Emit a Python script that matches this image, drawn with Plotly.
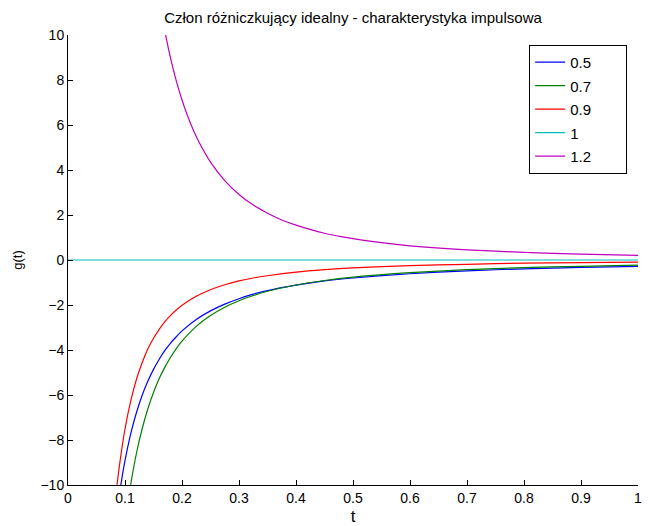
import plotly.graph_objects as go

# Values
t_05 = [0.085, 0.09, 0.095, 0.10, 0.11, 0.12, 0.13, 0.14, 0.15, 0.16, 0.17, 0.18, 0.19, 0.20, 0.225, 0.25, 0.275, 0.30, 0.325, 0.35, 0.40, 0.45, 0.50, 0.60, 0.70, 0.80, 0.90, 1.00]
g_05 = [-11.38, -10.45, -9.63, -8.92, -7.73, -6.79, -6.02, -5.39, -4.86, -4.41, -4.02, -3.69, -3.41, -3.15, -2.64, -2.26, -1.96, -1.72, -1.52, -1.36, -1.12, -0.93, -0.80, -0.61, -0.48, -0.39, -0.33, -0.28]

t_07 = [0.10, 0.105, 0.11, 0.12, 0.13, 0.14, 0.15, 0.16, 0.17, 0.18, 0.19, 0.20, 0.225, 0.25, 0.275, 0.30, 0.325, 0.35, 0.40, 0.45, 0.50, 0.60, 0.70, 0.80, 0.90, 1.00]
g_07 = [-11.73, -10.79, -9.97, -8.60, -7.51, -6.62, -5.89, -5.27, -4.76, -4.32, -3.94, -3.61, -2.95, -2.47, -2.10, -1.81, -1.58, -1.39, -1.11, -0.91, -0.76, -0.56, -0.43, -0.34, -0.28, -0.23]

t_09 = [0.08, 0.085, 0.09, 0.10, 0.11, 0.12, 0.13, 0.14, 0.15, 0.16, 0.17, 0.18, 0.19, 0.20, 0.225, 0.25, 0.275, 0.30, 0.325, 0.35, 0.40, 0.45, 0.50, 0.60, 0.70, 0.80, 0.90, 1.00]
g_09 = [-11.48, -10.24, -9.18, -7.51, -6.27, -5.31, -4.57, -3.96, -3.48, -3.08, -2.74, -2.46, -2.22, -2.01, -1.61, -1.32, -1.10, -0.93, -0.80, -0.70, -0.54, -0.43, -0.35, -0.25, -0.19, -0.14, -0.12, -0.09]

t_1 = [0.0, 0.25, 0.5, 0.75, 1.0]
g_1 = [0.0, 0.0, 0.0, 0.0, 0.0]

t_12 = [0.16, 0.17, 0.18, 0.19, 0.20, 0.21, 0.22, 0.23, 0.25, 0.275, 0.30, 0.325, 0.35, 0.375, 0.40, 0.45, 0.50, 0.55, 0.60, 0.70, 0.80, 0.90, 1.00]
g_12 = [11.62, 10.17, 8.96, 7.96, 7.11, 6.39, 5.77, 5.23, 4.35, 3.53, 2.91, 2.44, 2.08, 1.78, 1.55, 1.19, 0.95, 0.77, 0.63, 0.45, 0.34, 0.26, 0.21]

names = ["0.5", "0.7", "0.9", "1", "1.2"]
colors = ["#0000ff", "#008000", "#ff0000", "#00bfbf", "#bf00bf"]
series = [(t_05, g_05), (t_07, g_07), (t_09, g_09), (t_1, g_1), (t_12, g_12)]

FONT = "Liberation Sans, Arial, sans-serif"
PAD = "\u00a0" * 7

fig = go.Figure()
for (tx, gy), nm, c in zip(series, names, colors):
    fig.add_trace(go.Scatter(x=tx, y=gy, mode="lines", name=nm + PAD, legendgroup=nm,
                             line=dict(color=c, width=1.2, shape="spline", smoothing=0.6)))

fig.update_layout(
    width=648, height=526,
    margin=dict(l=68, r=10, t=35, b=41, autoexpand=False),
    paper_bgcolor="white", plot_bgcolor="white",
    font=dict(family=FONT, size=14, color="black"),
    title=dict(text="Człon różniczkujący idealny - charakterystyka impulsowa",
               x=(68 + 285) / 648, xanchor="center", y=1 - 18 / 526, yanchor="middle",
               yref="container", font=dict(size=15)),
    showlegend=True,
    legend=dict(x=0.809, y=0.978, xanchor="left", yanchor="top",
                bordercolor="black", borderwidth=1, bgcolor="white",
                font=dict(size=15), traceorder="grouped", tracegroupgap=1),
)
fig.update_xaxes(range=[0, 1], dtick=0.1, tick0=0, showgrid=False, zeroline=False,
                 showline=True, linecolor="black", linewidth=1, mirror=False,
                 ticks="inside", ticklen=5, tickcolor="black", automargin=False,
                 title=dict(text="t", standoff=6))
fig.update_yaxes(range=[-10, 10], dtick=2, tick0=0, showgrid=False, zeroline=False,
                 showline=True, linecolor="black", linewidth=1, mirror=False,
                 ticks="inside", ticklen=5, tickcolor="black", automargin=False,
                 title=dict(text="g(t)", standoff=14, font=dict(size=13)))

fig.write_html("out.html")
